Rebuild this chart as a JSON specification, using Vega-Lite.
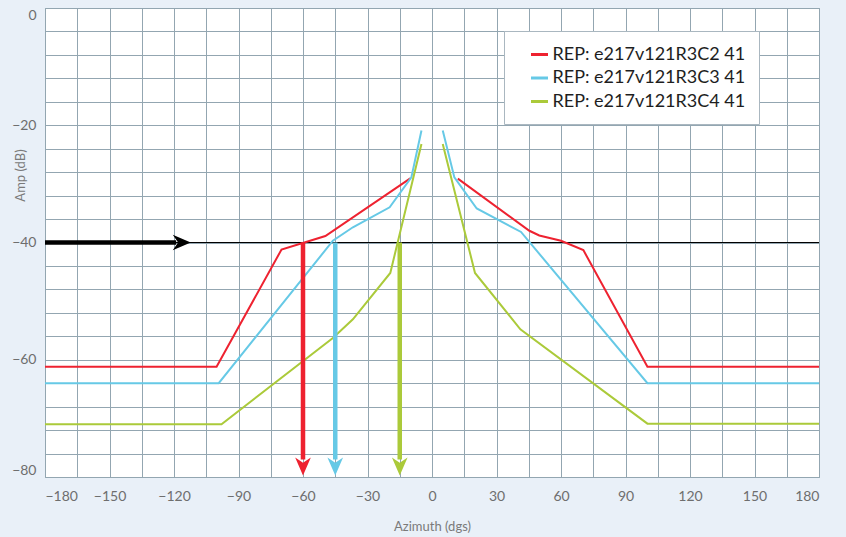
{
  "$schema": "https://vega.github.io/schema/vega-lite/v6.json",
  "width": 774,
  "height": 469,
  "autosize": {"type": "none"},
  "padding": {"left": 45, "top": 8, "right": 27, "bottom": 60},
  "background": "#e9f0f8",
  "config": {
    "view": {"fill": "white", "stroke": "#8fa2ad", "strokeWidth": 1},
    "font": "Lato",
    "axis": {
      "domain": false,
      "ticks": false,
      "grid": true,
      "gridColor": "#93a6b1",
      "gridWidth": 1,
      "gridOpacity": 1,
      "labelFont": "Lato",
      "labelFontSize": 14,
      "labelColor": "#6e6e6e",
      "labelOverlap": false,
      "titleFont": "Lato",
      "titleFontSize": 13,
      "titleFontWeight": "normal",
      "titleColor": "#7a7a7a"
    }
  },
  "datasets": {
    "curves": [
      {"s": "REP: e217v121R3C2 41", "p": "L", "az": -180, "amp": -61.2},
      {"s": "REP: e217v121R3C2 41", "p": "L", "az": -100.2, "amp": -61.2},
      {"s": "REP: e217v121R3C2 41", "p": "L", "az": -70, "amp": -41.2},
      {"s": "REP: e217v121R3C2 41", "p": "L", "az": -49.6, "amp": -38.9},
      {"s": "REP: e217v121R3C2 41", "p": "L", "az": -10.1, "amp": -29.05},
      {"s": "REP: e217v121R3C2 41", "p": "R", "az": 12, "amp": -29.1},
      {"s": "REP: e217v121R3C2 41", "p": "R", "az": 45.3, "amp": -38.0},
      {"s": "REP: e217v121R3C2 41", "p": "R", "az": 49.9, "amp": -38.8},
      {"s": "REP: e217v121R3C2 41", "p": "R", "az": 60, "amp": -39.7},
      {"s": "REP: e217v121R3C2 41", "p": "R", "az": 70.4, "amp": -41.3},
      {"s": "REP: e217v121R3C2 41", "p": "R", "az": 100.2, "amp": -61.2},
      {"s": "REP: e217v121R3C2 41", "p": "R", "az": 180, "amp": -61.2},
      {"s": "REP: e217v121R3C3 41", "p": "L", "az": -180, "amp": -64.0},
      {"s": "REP: e217v121R3C3 41", "p": "L", "az": -99.2, "amp": -64.0},
      {"s": "REP: e217v121R3C3 41", "p": "L", "az": -46.1, "amp": -39.7},
      {"s": "REP: e217v121R3C3 41", "p": "L", "az": -36.8, "amp": -37.4},
      {"s": "REP: e217v121R3C3 41", "p": "L", "az": -19.7, "amp": -34.0},
      {"s": "REP: e217v121R3C3 41", "p": "L", "az": -9.6, "amp": -28.9},
      {"s": "REP: e217v121R3C3 41", "p": "L", "az": -4.9, "amp": -20.9},
      {"s": "REP: e217v121R3C3 41", "p": "R", "az": 5.0, "amp": -20.9},
      {"s": "REP: e217v121R3C3 41", "p": "R", "az": 10.4, "amp": -28.9},
      {"s": "REP: e217v121R3C3 41", "p": "R", "az": 20.8, "amp": -34.2},
      {"s": "REP: e217v121R3C3 41", "p": "R", "az": 41.4, "amp": -38.2},
      {"s": "REP: e217v121R3C3 41", "p": "R", "az": 100.2, "amp": -64.0},
      {"s": "REP: e217v121R3C3 41", "p": "R", "az": 180, "amp": -64.0},
      {"s": "REP: e217v121R3C4 41", "p": "L", "az": -180, "amp": -71.0},
      {"s": "REP: e217v121R3C4 41", "p": "L", "az": -97.9, "amp": -71.0},
      {"s": "REP: e217v121R3C4 41", "p": "L", "az": -46.1, "amp": -56.3},
      {"s": "REP: e217v121R3C4 41", "p": "L", "az": -36.8, "amp": -53.1},
      {"s": "REP: e217v121R3C4 41", "p": "L", "az": -19.4, "amp": -45.2},
      {"s": "REP: e217v121R3C4 41", "p": "L", "az": -4.9, "amp": -23.2},
      {"s": "REP: e217v121R3C4 41", "p": "R", "az": 5.0, "amp": -23.2},
      {"s": "REP: e217v121R3C4 41", "p": "R", "az": 20.0, "amp": -45.2},
      {"s": "REP: e217v121R3C4 41", "p": "R", "az": 41.1, "amp": -54.8},
      {"s": "REP: e217v121R3C4 41", "p": "R", "az": 100.2, "amp": -70.9},
      {"s": "REP: e217v121R3C4 41", "p": "R", "az": 180, "amp": -70.9}
    ],
    "arrows": [
      {"s": "REP: e217v121R3C2 41", "az": -60, "top": -40, "end": -77, "head": -78.2},
      {"s": "REP: e217v121R3C3 41", "az": -45, "top": -40, "end": -77, "head": -78.2},
      {"s": "REP: e217v121R3C4 41", "az": -15, "top": -40, "end": -77, "head": -78.2}
    ],
    "level": [
      {"amp": -40, "from": -180, "to": -119, "head": -116.4}
    ]
  },
  "encoding": {
    "x": {
      "type": "quantitative",
      "scale": {"domain": [-180, 180], "nice": false, "zero": false},
      "axis": {
        "title": "Azimuth (dgs)",
        "values": [-180, -165, -150, -135, -120, -105, -90, -75, -60, -45, -30, -15, 0, 15, 30, 45, 60, 75, 90, 105, 120, 135, 150, 165, 180],
        "labelExpr": "datum.value % 30 == 0 ? datum.label : ''",
        "labelPadding": 12,
        "titlePadding": 17
      }
    },
    "y": {
      "type": "quantitative",
      "scale": {"domain": [-80, 0], "nice": false, "zero": false},
      "axis": {
        "title": "Amp (dB)",
        "values": [-80, -76, -72, -68, -64, -60, -56, -52, -48, -44, -40, -36, -32, -28, -24, -20, -16, -12, -8, -4, 0],
        "labelExpr": "datum.value % 20 == 0 ? datum.label : ''",
        "labelFlush": true,
        "labelPadding": 9,
        "titleX": -18,
        "titleY": 167,
        "titleBaseline": "bottom"
      }
    }
  },
  "layer": [
    {
      "data": {"name": "level"},
      "mark": {"type": "rule", "color": "black", "strokeWidth": 1},
      "encoding": {"y": {"field": "amp"}}
    },
    {
      "data": {"name": "curves"},
      "mark": {"type": "line", "strokeWidth": 2},
      "encoding": {
        "x": {"field": "az"},
        "y": {"field": "amp"},
        "detail": {"field": "p"},
        "color": {
          "field": "s",
          "type": "nominal",
          "scale": {
            "domain": ["REP: e217v121R3C2 41", "REP: e217v121R3C3 41", "REP: e217v121R3C4 41"],
            "range": ["#ee2230", "#66c9e6", "#abca3a"]
          },
          "legend": {
            "title": null,
            "orient": "none",
            "legendX": 459,
            "legendY": 23,
            "fillColor": "white",
            "strokeColor": "#aab7c0",
            "padding": 13.5,
            "symbolOffset": 12,
            "symbolType": "stroke",
            "symbolSize": 289,
            "symbolStrokeWidth": 3,
            "labelFont": "Lato",
            "labelFontSize": 18,
            "labelColor": "#1e1e1e",
            "labelOffset": 3,
            "rowPadding": 4.5,
            "labelLimit": 400,
            "labelExpr": "datum.label + '\u2003\u2003'"
          }
        }
      }
    },
    {
      "data": {"name": "level"},
      "mark": {"type": "rule", "color": "black", "strokeWidth": 4.5},
      "encoding": {"x": {"field": "from"}, "x2": {"field": "to"}, "y": {"field": "amp"}}
    },
    {
      "data": {"name": "level"},
      "mark": {"type": "point", "filled": true, "opacity": 1, "color": "black", "size": 324, "strokeWidth": 0, "shape": "M1,0 L-1,-0.87 L-0.4,0 L-1,0.87 Z"},
      "encoding": {"x": {"field": "head"}, "y": {"field": "amp"}}
    },
    {
      "data": {"name": "arrows"},
      "mark": {"type": "rule", "strokeWidth": 4.5},
      "encoding": {
        "x": {"field": "az"},
        "y": {"field": "top"},
        "y2": {"field": "end"},
        "color": {"field": "s", "type": "nominal"}
      }
    },
    {
      "data": {"name": "arrows"},
      "mark": {"type": "point", "filled": true, "opacity": 1, "size": 324, "strokeWidth": 0, "shape": "M0,1 L-0.87,-1 L0,-0.4 L0.87,-1 Z"},
      "encoding": {
        "x": {"field": "az"},
        "y": {"field": "head"},
        "color": {"field": "s", "type": "nominal"}
      }
    }
  ]
}
